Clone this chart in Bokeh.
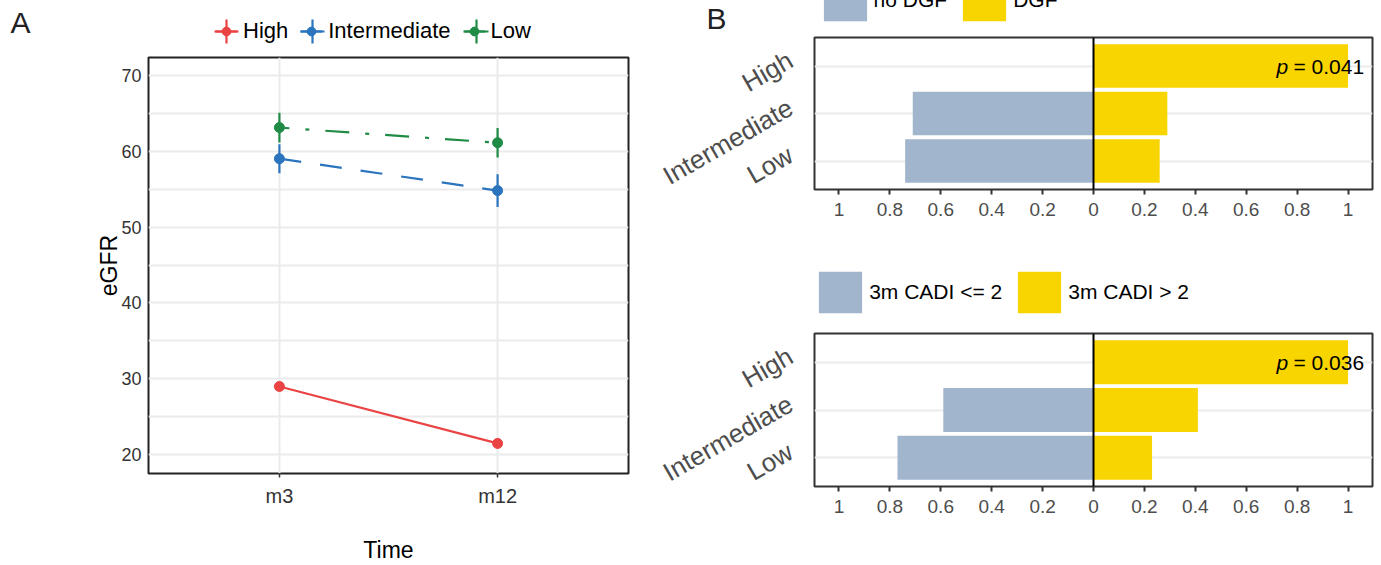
import math
from bokeh.plotting import figure
from bokeh.models import (ColumnDataSource, Range1d, FixedTicker, Legend, LegendItem,
                          Span, Label)
from bokeh.layouts import row, column
from bokeh.embed import file_html
from bokeh.resources import INLINE
from bokeh.core.properties import value

# ---------------- data ----------------
time_labels = ["m3", "m12"]
time_pos = [1, 2]
groups = ["High", "Intermediate", "Low"]

high_mean = [29.0, 21.5]
high_err = [0.4, 0.4]
inter_mean = [59.0, 54.8]
inter_err = [1.9, 2.15]
low_mean = [63.1, 61.1]
low_err = [1.95, 1.95]

y_major = [20, 30, 40, 50, 60, 70]
y_minor = [15, 25, 35, 45, 55, 65, 75]

dgf_no = [0.0, 0.71, 0.74]
dgf_yes = [1.0, 0.29, 0.26]
dgf_labels = ["no DGF", "DGF"]
dgf_p = "0.041"

cadi_no = [0.0, 0.59, 0.77]
cadi_yes = [1.0, 0.41, 0.23]
cadi_labels = ["3m CADI <= 2", "3m CADI > 2"]
cadi_p = "0.036"

bar_ticks = [-1.0, -0.8, -0.6, -0.4, -0.2, 0.0, 0.2, 0.4, 0.6, 0.8, 1.0]
bar_tick_labels = ["1", "0.8", "0.6", "0.4", "0.2", "0", "0.2", "0.4", "0.6", "0.8", "1"]

# ---------------- style ----------------
FONT = "Liberation Sans"
RED, BLUE, GREEN = "#EA4343", "#2B74BE", "#1F8B44"
GREYBLUE, YELLOW = "#A1B5CC", "#F9D500"
GRID = "#EBEBEB"
WA, WB = 640, 741
BL = 174   # left border of the B panels (frame starts at x = 814)


def strip(width, height):
    s = figure(width=width, height=height, x_range=Range1d(0, 1), y_range=Range1d(0, 1),
               x_axis_type=None, y_axis_type=None, output_backend="svg",
               toolbar_location=None, min_border=0, min_border_left=0,
               min_border_right=0, min_border_top=0, min_border_bottom=0,
               frame_align=False)
    s.outline_line_color = None
    return s


def bare_legend(items, loc, gw, gh, **kw):
    return Legend(items=items, orientation="horizontal", location=loc,
                  glyph_width=gw, glyph_height=gh, padding=0, margin=0,
                  border_line_color=None, background_fill_alpha=0,
                  label_text_font=FONT, label_text_color="black", **kw)


# ---------------- panel A ----------------
stripA = strip(WA, 55)
pA = figure(width=WA, height=510, x_range=Range1d(0.4, 2.6), y_range=Range1d(17.54, 72.33),
            output_backend="svg", toolbar_location=None, frame_align=False,
            min_border_left=148, min_border_right=WA - 628, min_border_top=2,
            min_border_bottom=85)
pA.outline_line_color = "#222222"
pA.outline_line_width = 2

pA.xaxis.ticker = FixedTicker(ticks=time_pos)
pA.xaxis.major_label_overrides = {t: l for t, l in zip(time_pos, time_labels)}
pA.yaxis.ticker = FixedTicker(ticks=y_major, minor_ticks=y_minor)

for ax in (pA.xaxis[0], pA.yaxis[0]):
    ax.axis_line_color = None
    ax.minor_tick_line_color = None
    ax.major_label_text_font = FONT
    ax.major_label_text_color = "#333333"
    ax.axis_label_text_font = FONT
    ax.axis_label_text_font_style = "normal"
    ax.axis_label_text_font_size = "23px"
    ax.axis_label_text_color = "black"

pA.xaxis.major_tick_out = 4
pA.xaxis.major_tick_in = 0
pA.xaxis.major_tick_line_color = "#333333"
pA.xaxis.major_tick_line_width = 1.5
pA.xaxis.major_label_text_font_size = "20px"
pA.xaxis.major_label_standoff = 7
pA.xaxis.axis_label = "Time"
pA.xaxis.axis_label_standoff = 27

pA.yaxis.major_tick_out = 0
pA.yaxis.major_tick_in = 0
pA.yaxis.major_tick_line_color = None
pA.yaxis.major_label_text_font_size = "18px"
pA.yaxis.major_label_standoff = 3
pA.yaxis.axis_label = "eGFR"
pA.yaxis.axis_label_standoff = -4

pA.xgrid.grid_line_color = GRID
pA.xgrid.grid_line_width = 2
pA.ygrid.grid_line_color = GRID
pA.ygrid.grid_line_width = 2
pA.ygrid.minor_grid_line_color = GRID
pA.ygrid.minor_grid_line_width = 2

series = [
    ("High", high_mean, high_err, RED, "solid", 0),
    ("Intermediate", inter_mean, inter_err, BLUE, "22 19", 0),
    ("Low", low_mean, low_err, GREEN, "24 16 4 16", 14),
]
key_centers = [226, 312, 476]   # legend key centres (px) in the strip above panel A
legend_items = []
for (name, mean, err, color, dash, off), kc in zip(series, key_centers):
    src = ColumnDataSource(dict(
        x=time_pos, y=mean,
        lo=[m - e for m, e in zip(mean, err)],
        hi=[m + e for m, e in zip(mean, err)],
    ))
    pA.line("x", "y", source=src, line_color=color, line_width=2.2,
            line_dash=dash, line_dash_offset=off)
    pA.segment(x0="x", y0="lo", x1="x", y1="hi", source=src,
               line_color=color, line_width=2.2)
    pA.scatter("x", "y", source=src, size=10, fill_color=color,
               line_color=color, line_width=1)
    # legend keys (hidden renderers in the strip above the panel)
    k_line = stripA.line("x", "y", source=src, line_color=color, line_width=2.2, visible=False)
    k_pt = stripA.scatter("x", "y", source=src, size=10, fill_color=color,
                          line_color=color, line_width=1, visible=False)
    legend_items.append(LegendItem(label=name, renderers=[k_line, k_pt]))
    # error-bar cross of the key
    k_bar = stripA.scatter("x", "y", source=src, marker="cross",
                           line_color=color, line_width=2.2, visible=False)
    stripA.add_layout(bare_legend([LegendItem(label=" ", renderers=[k_bar])],
                                  (kc - 30, -6), 60, 60, label_standoff=0,
                                  label_text_font_size="10px"))

legA = bare_legend(legend_items, (215, 11.5), 22, 24, label_standoff=6, spacing=12,
                   label_text_font_size="22px")
stripA.add_layout(legA)
stripA.add_layout(Label(x=10, y=33, x_units="screen", y_units="screen", text="A",
                        text_font=FONT, text_font_size="30px", text_baseline="middle",
                        text_color="#222222"))


# ---------------- panel B ----------------
def bar_panel(no_vals, yes_vals, pval, height, b_bottom):
    n = len(groups)
    ypos = [n - i for i in range(n)]
    p = figure(width=WB, height=height, x_range=Range1d(-1.096, 1.096),
               y_range=Range1d(0.4, n + 0.6),
               output_backend="svg", toolbar_location=None, frame_align=False,
               min_border_left=BL, min_border_right=9,
               min_border_top=2, min_border_bottom=b_bottom)
    p.outline_line_color = "#333333"
    p.outline_line_width = 2
    src = ColumnDataSource(dict(y=ypos, no=[-v for v in no_vals], yes=yes_vals))
    p.hbar(y="y", left="no", right=0, height=0.92, source=src,
           fill_color=GREYBLUE, line_color=None)
    p.hbar(y="y", left=0, right="yes", height=0.92, source=src,
           fill_color=YELLOW, line_color=None)
    p.add_layout(Span(location=0, dimension="height", line_color="black", line_width=2))

    p.xgrid.grid_line_color = None
    p.ygrid.ticker = FixedTicker(ticks=ypos)
    p.ygrid.grid_line_color = GRID
    p.ygrid.grid_line_width = 2

    p.xaxis.ticker = FixedTicker(ticks=bar_ticks)
    p.xaxis.major_label_overrides = {t: l for t, l in zip(bar_ticks, bar_tick_labels)}
    # rotated category labels sit slightly above their row (as in ggplot's hjust/vjust)
    lab_pos = [y + 0.17 for y in ypos]
    p.yaxis.ticker = FixedTicker(ticks=lab_pos)
    p.yaxis.major_label_overrides = {t: g for t, g in zip(lab_pos, groups)}
    p.yaxis.major_label_orientation = math.pi / 6
    for ax in (p.xaxis[0], p.yaxis[0]):
        ax.axis_line_color = None
        ax.minor_tick_line_color = None
        ax.major_label_text_font = FONT
        ax.major_label_text_color = "#4D4D4D"
    p.xaxis.major_tick_out = 5
    p.xaxis.major_tick_in = 0
    p.xaxis.major_tick_line_width = 2
    p.xaxis.major_tick_line_color = "#333333"
    p.xaxis.major_label_standoff = 8
    p.xaxis.major_label_text_font_size = "19px"
    p.yaxis.major_tick_line_color = None
    p.yaxis.major_tick_out = 0
    p.yaxis.major_tick_in = 0
    p.yaxis.major_label_standoff = 24
    p.yaxis.major_label_text_font_size = "26px"

    # p-value annotation anchored at the end of the top bar
    top = dict(x=[yes_vals[0]], y=[ypos[0]])
    p.text(x=top["x"], y=top["y"], text=["= " + pval], x_offset=16, text_align="right",
           text_baseline="middle", text_font=value(FONT), text_font_size="21px",
           text_color="black")
    p.text(x=top["x"], y=top["y"], text=["p"], x_offset=-60, text_align="right",
           text_baseline="middle", text_font=value(FONT), text_font_size="21px",
           text_font_style="italic", text_color="black")
    return p, src


def bar_legend(s, src, labels, loc):
    k_no = s.hbar(y="y", left="no", right=0, height=0.92, source=src,
                  fill_color=GREYBLUE, line_color=None, visible=False)
    k_yes = s.hbar(y="y", left=0, right="yes", height=0.92, source=src,
                   fill_color=YELLOW, line_color=None, visible=False)
    leg = bare_legend([LegendItem(label=labels[0], renderers=[k_no]),
                       LegendItem(label=labels[1], renderers=[k_yes])],
                      loc, 54, 52, label_standoff=2, spacing=10,
                      label_text_font_size="21px")
    s.add_layout(leg)


pB1, srcB1 = bar_panel(dgf_no, dgf_yes, dgf_p, 215, 61)
stripB1 = strip(WB, 35)
bar_legend(stripB1, srcB1, dgf_labels, (BL + 3.6, 9))
stripB1.add_layout(Label(x=706 - WA, y=17, x_units="screen", y_units="screen", text="B",
                         text_font=FONT, text_font_size="30px", text_baseline="middle",
                         text_color="#222222"))

pB2, srcB2 = bar_panel(cadi_no, cadi_yes, cadi_p, 234, 79)
stripB2 = strip(WB, 81)
bar_legend(stripB2, srcB2, cadi_labels, (BL - 0.8, 13))

layout = row(column(stripA, pA, spacing=0),
             column(stripB1, pB1, stripB2, pB2, spacing=0), spacing=0)
open("out.html", "w").write(file_html(layout, INLINE))
